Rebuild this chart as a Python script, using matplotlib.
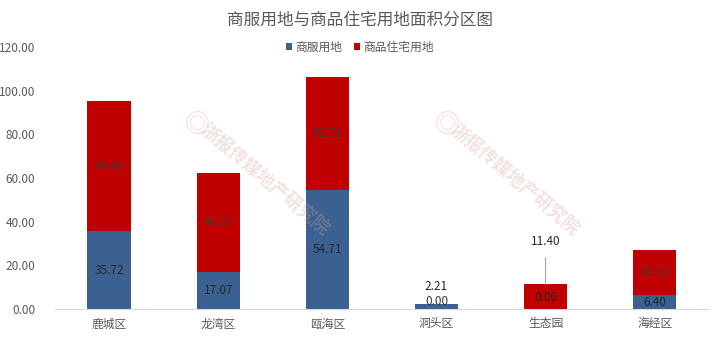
import matplotlib
matplotlib.use("Agg")
import matplotlib.pyplot as plt
import numpy as np

plt.rcParams["font.family"] = ["Noto Sans CJK SC", "DejaVu Sans"]

districts = ["鹿城区", "龙湾区", "瓯海区", "洞头区", "生态园", "海经区"]
commercial = [35.72, 17.07, 54.71, 2.21, 0.00, 6.40]
residential = [59.60, 45.27, 51.71, 0.00, 11.40, 20.73]
series_names = ["商服用地", "商品住宅用地"]
title = "商服用地与商品住宅用地面积分区图"
watermark = "浙报传媒地产研究院"

BLUE = "#3A6191"
RED = "#C00000"
GRAY = "#595959"
DARK = "#262626"


def main() -> None:
    fig = plt.figure(figsize=(7.2, 3.62), dpi=100)
    ax = fig.add_axes([0.076, 0.146, 0.909, 0.724])

    x = np.arange(len(districts))
    width = 0.4
    ax.bar(x, commercial, width, color=BLUE, label=series_names[0])
    ax.bar(x, residential, width, bottom=commercial, color=RED, label=series_names[1])

    # data labels (small values get moved up with a leader line, like Excel did)
    for i, (c, r) in enumerate(zip(commercial, residential)):
        if c > 5:
            ax.text(i, c / 2, f"{c:.2f}", ha="center", va="center", fontsize=8.5, color=DARK)
        if r > 15:
            ax.text(i, c + r / 2, f"{r:.2f}", ha="center", va="center", fontsize=8.5, color="#3a3a3a")

    # 洞头区
    ax.annotate(f"{commercial[3]:.2f}", xy=(3, commercial[3]), xytext=(3, 10.5),
                ha="center", va="center", fontsize=8.5, color=DARK,
                arrowprops=dict(arrowstyle="-", color="#a6a6a6", lw=0.8, shrinkA=4, shrinkB=0))
    ax.text(3, 3.3, f"{residential[3]:.2f}", ha="center", va="center", fontsize=8.5, color="#3a3a3a")
    # 生态园
    ax.annotate(f"{residential[4]:.2f}", xy=(4, residential[4]), xytext=(4, 31),
                ha="center", va="center", fontsize=8.5, color=DARK,
                arrowprops=dict(arrowstyle="-", color="#a6a6a6", lw=0.8, shrinkA=5, shrinkB=0))
    ax.text(4, 5.5, f"{commercial[4]:.2f}", ha="center", va="center", fontsize=8.5, color=DARK)

    ax.set_xlim(-0.5, len(districts) - 0.5)
    ax.set_ylim(0, 120)
    ax.set_yticks(np.arange(0, 121, 20))
    ax.set_yticklabels([f"{v:.2f}" for v in np.arange(0, 121, 20)])
    ax.set_xticks(x)
    ax.set_xticklabels(districts)
    ax.tick_params(axis="both", length=0, labelsize=8.5, colors=GRAY)
    ax.tick_params(axis="y", pad=14)
    ax.tick_params(axis="x", pad=6)
    for side in ["top", "right", "left"]:
        ax.spines[side].set_visible(False)
    ax.spines["bottom"].set_color("#d9d9d9")

    # faint watermarks
    for wx in [265, 515]:
        fig.text(wx / 720, 1 - 180 / 362, watermark, rotation=-40, ha="center", va="center",
                 fontsize=13, fontweight="bold", color="#d9a0a0", alpha=0.3, zorder=5)
        fig.text((wx - 68) / 720, 1 - 125 / 362, "◎", ha="center", va="center",
                 fontsize=18, color="#e08080", alpha=0.3, zorder=5)

    fig.text(0.5, 0.945, title, ha="center", va="center", fontsize=12, color=GRAY)
    fig.legend(loc="center", bbox_to_anchor=(0.5, 0.87), ncol=2, frameon=False,
               fontsize=8.5, handlelength=0.5, handleheight=0.5, handletextpad=0.3,
               columnspacing=1.0, labelcolor=GRAY)

    fig.savefig("out.png", dpi=100)


if __name__ == "__main__":
    main()
